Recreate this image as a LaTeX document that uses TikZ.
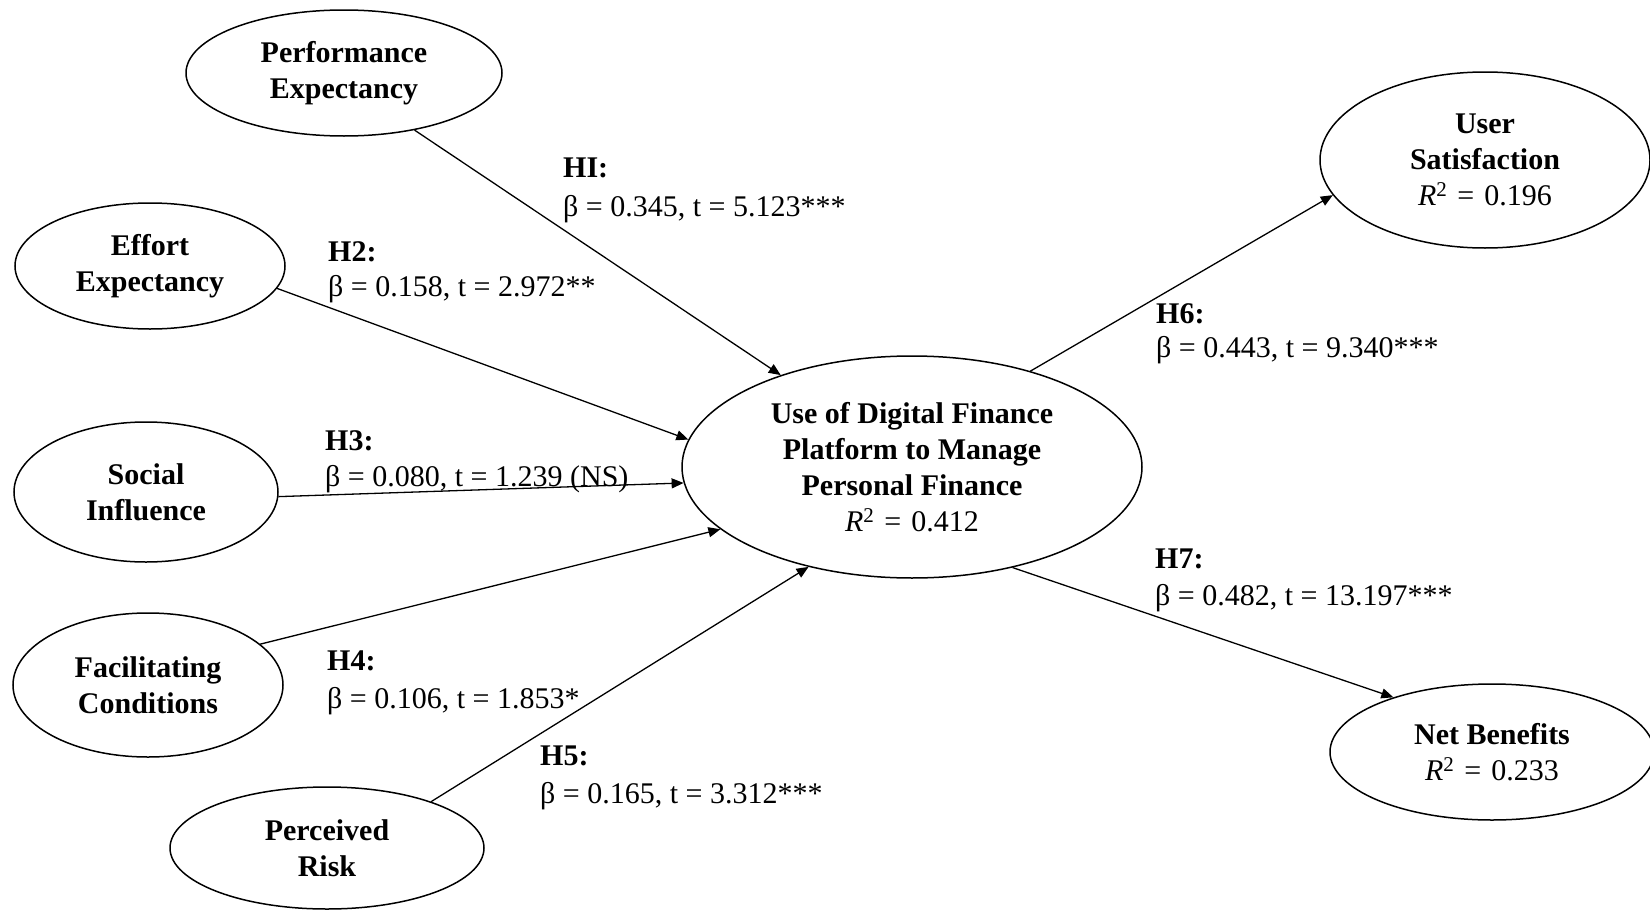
\documentclass[tikz,border=0pt]{standalone}
\usepackage{fontspec}
\setmainfont{Liberation Serif}
\usetikzlibrary{arrows.meta,shapes.geometric}
% coefficient of determination line inside a construct
\newcommand{\rsq}[1]{{\mdseries\textit{R}\textsuperscript{2}\,\,=\,\,#1}}
\begin{document}
\begin{tikzpicture}[x=1pt,y=-1pt,
  construct/.style={draw, line width=1.5pt, ellipse, inner sep=0pt, align=center,
    font=\fontsize{30}{36}\selectfont\bfseries},
  link/.style={line width=1.3pt, -{Triangle[length=12pt,width=10pt]}},
  hyp/.style={anchor=base west, inner sep=0pt, font=\fontsize{30}{36}\selectfont\bfseries},
  coef/.style={anchor=base west, inner sep=0pt, font=\fontsize{30}{36}\selectfont}]

\useasboundingbox (0,0) rectangle (1650,910);

% exogenous constructs
\node[construct, minimum width=316pt, minimum height=126pt] (pe) at (344,73) {Performance\\Expectancy};
\node[construct, minimum width=270pt, minimum height=126pt] (ee) at (150,266) {Effort\\Expectancy};
\node[construct, minimum width=264pt, minimum height=140pt] (si) at (146,492) {Social\\Influence};
\node[construct, minimum width=270pt, minimum height=144pt] (fc) at (148,685) {Facilitating\\Conditions};
\node[construct, minimum width=314pt, minimum height=122pt] (pr) at (327,848) {Perceived\\Risk};

% mediating and outcome constructs
\node[construct, minimum width=460pt, minimum height=222pt] (use) at (912,467)
  {Use of Digital Finance\\Platform to Manage\\Personal Finance\\\rsq{0.412}};
\node[construct, minimum width=330pt, minimum height=176pt] (us) at (1485,160)
  {User\\Satisfaction\\\rsq{0.196}};
\node[construct, minimum width=324pt, minimum height=136pt] (nb) at (1492,752)
  {Net Benefits\\\rsq{0.233}};

% structural paths
\draw[link] (pe.-39.7) -- (use.145.2);
\draw[link] (ee.-10.6) -- (use.173.2);
\draw[link] (si.-2.2) -- (use.184.3);
\draw[link] (fc.20.7) -- (use.198.9);
\draw[link] (pr.24.4) -- (use.224.4);
\draw[link] (use.39.9) -- (us.193.9);
\draw[link] (use.-45) -- (nb.151.9);

% path estimates
\node[hyp]  (h1) at (563,177) {HI:};
\node[coef] (c1) at (563,216) {β = 0.345, t = 5.123***};
\node[hyp]  (h2) at (328,261) {H2:};
\node[coef] (c2) at (328,296) {β = 0.158, t = 2.972**};
\node[hyp]  (h3) at (325,450) {H3:};
\node[coef] (c3) at (325,486) {β = 0.080, t = 1.239 (NS)};
\node[hyp]  (h4) at (327,670) {H4:};
\node[coef] (c4) at (327,708) {β = 0.106, t = 1.853*};
\node[hyp]  (h5) at (540,765) {H5:};
\node[coef] (c5) at (540,803) {β = 0.165, t = 3.312***};
\node[hyp]  (h6) at (1156,323) {H6:};
\node[coef] (c6) at (1156,357) {β = 0.443, t = 9.340***};
\node[hyp]  (h7) at (1155,568) {H7:};
\node[coef] (c7) at (1155,605) {β = 0.482, t = 13.197***};
\end{tikzpicture}
\end{document}
